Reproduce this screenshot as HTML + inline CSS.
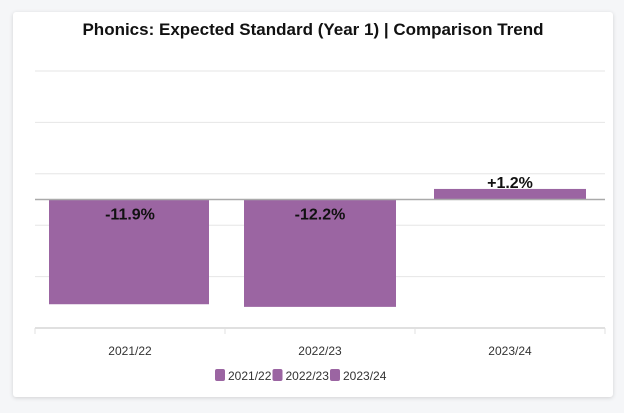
<!DOCTYPE html>
<html><head><meta charset="utf-8"><style>
body{margin:0;background:#f5f6f8;width:624px;height:413px;overflow:hidden}
#card{position:absolute;left:13px;top:12px;width:600px;height:385px;background:#fff;border-radius:3px;box-shadow:0 1px 4px rgba(0,0,0,.15)}
svg{position:absolute;left:0;top:0}
</style></head><body>
<div id="card"></div>
<svg id="chart" width="624" height="413">
<text x="313" y="35" text-anchor="middle" font-family="'Liberation Sans Narrow','Liberation Sans',sans-serif" font-weight="bold" font-size="17" fill="#111">Phonics: Expected Standard (Year 1) | Comparison Trend</text>
</svg>
<script>
const categories=["2021/22","2022/23","2023/24"];
const values=[-11.9,-12.2,1.2];
const valueLabels=["-11.9%","-12.2%","+1.2%"];
const yMin=-14.6,yMax=14.6,tickCount=6;
const svg=document.getElementById('chart');
const NS='http://www.w3.org/2000/svg';
const L=35,R=605,T=71,B=328;
const y=v=>T+(yMax-v)/(yMax-yMin)*(B-T);
const bw=(R-L)/categories.length;
const x=i=>L+i*bw;
function mk(tag,attrs){const e=document.createElementNS(NS,tag);for(const k in attrs)e.setAttribute(k,attrs[k]);svg.appendChild(e);return e;}
for(let i=0;i<tickCount;i++){const v=yMax-i*(yMax-yMin)/(tickCount-1);
 const g=mk('line',{x1:L,x2:R,y1:y(v),y2:y(v),stroke:'#e6e6e6','stroke-width':1});
 
 }
const ax=mk('line',{x1:L,x2:R,y1:B,y2:B,stroke:'#e0e0e0','stroke-width':2});


for(let i=0;i<=categories.length;i++){const t=mk('line',{x1:x(i),x2:x(i),y1:B,y2:B+6,stroke:'#e0e0e0'});
 
 }
categories.forEach((c,i)=>{
 const v=values[i],top=Math.min(y(v),y(0)),h=Math.abs(y(v)-y(0));
 const r=mk('rect',{x:x(i)+bw/2-76+(i==0?-5:0),y:top,width:152+(i==0?8:0),height:h,fill:'#9b65a2'});
 
 
 const ly=v<0?y(0)+20:y(v)-1;
 const t=mk('text',{x:x(i)+bw/2,y:ly,'text-anchor':'middle','font-family':"'Liberation Sans Narrow','Liberation Sans',sans-serif",'font-weight':'bold','font-size':16,fill:'#111'});
 t.textContent=valueLabels[i];
 
 
 const xl=mk('text',{x:x(i)+bw/2,y:355,'text-anchor':'middle','font-family':"'Liberation Sans',sans-serif",'font-size':12,fill:'#333'});
 xl.textContent=c;
 
 
 const lx=215+i*57.5;
 const sq=mk('rect',{x:lx,y:369,width:10,height:12,rx:2,fill:'#9b65a2'});
 
 
 const lt=mk('text',{x:lx+13,y:380,'font-family':"'Liberation Sans',sans-serif",'font-size':12,fill:'#333'});
 lt.textContent=c;
 
 
});
const z=mk('line',{x1:L,x2:R,y1:y(0),y2:y(0),stroke:'#aaa','stroke-width':1.5});


</script>
</body></html>
